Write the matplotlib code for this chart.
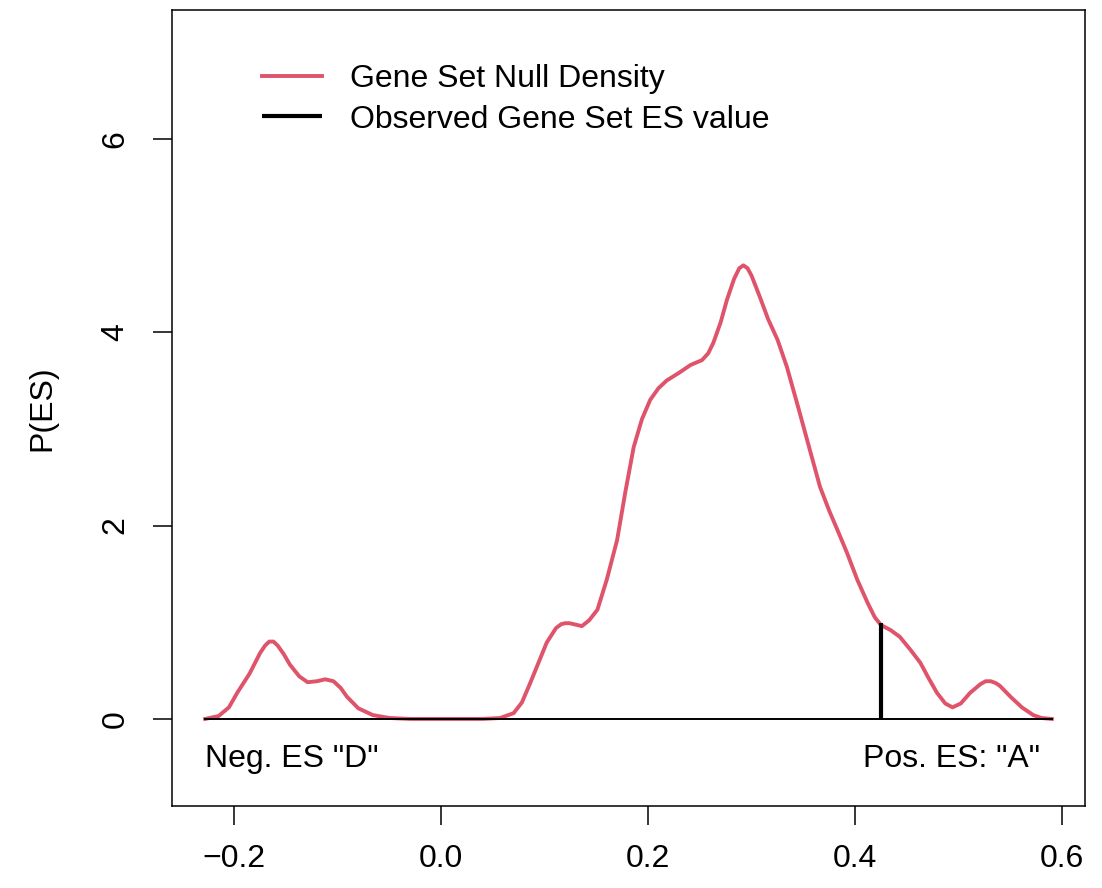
"""Gene set null density vs observed ES"""

import matplotlib
matplotlib.use('Agg')
import matplotlib.pyplot as plt

plt.rcParams['font.family'] = ['Liberation Sans', 'DejaVu Sans']

# null density
es_grid = [-0.228, -0.215, -0.205, -0.197, -0.185, -0.175, -0.170, -0.166,
           -0.162, -0.158, -0.152, -0.146, -0.137, -0.129, -0.120, -0.112,
           -0.104, -0.097, -0.091, -0.080, -0.066, -0.050, -0.030, 0.040,
           0.057, 0.070, 0.078, 0.086, 0.094, 0.102, 0.111, 0.116,
           0.120, 0.124, 0.128, 0.136, 0.143, 0.151, 0.160, 0.170,
           0.178, 0.186, 0.194, 0.202, 0.210, 0.218, 0.230, 0.241,
           0.252, 0.258, 0.263, 0.270, 0.276, 0.283, 0.288, 0.292,
           0.296, 0.300, 0.308, 0.316, 0.325, 0.334, 0.345, 0.357,
           0.366, 0.375, 0.383, 0.392, 0.402, 0.412, 0.419, 0.425,
           0.434, 0.443, 0.453, 0.463, 0.471, 0.479, 0.487, 0.494,
           0.502, 0.511, 0.521, 0.526, 0.531, 0.536, 0.540, 0.550,
           0.561, 0.572, 0.580, 0.590]
density = [0.00, 0.03, 0.12, 0.27, 0.47, 0.68, 0.76, 0.80,
           0.80, 0.76, 0.67, 0.56, 0.44, 0.38, 0.39, 0.41,
           0.39, 0.32, 0.23, 0.11, 0.04, 0.01, 0.00, 0.00,
           0.01, 0.06, 0.17, 0.37, 0.58, 0.79, 0.94, 0.98,
           0.99, 0.99, 0.98, 0.96, 1.02, 1.13, 1.44, 1.85,
           2.35, 2.81, 3.10, 3.30, 3.42, 3.50, 3.58, 3.66,
           3.71, 3.78, 3.89, 4.10, 4.33, 4.55, 4.66, 4.69,
           4.66, 4.58, 4.36, 4.13, 3.92, 3.64, 3.22, 2.75,
           2.40, 2.15, 1.95, 1.72, 1.44, 1.20, 1.05, 0.97,
           0.92, 0.85, 0.72, 0.58, 0.42, 0.27, 0.16, 0.12,
           0.16, 0.27, 0.36, 0.39, 0.39, 0.37, 0.34, 0.23,
           0.12, 0.04, 0.01, 0.00]

obs_es = 0.425
obs_height = 0.99

xticks = [-0.2, 0.0, 0.2, 0.4, 0.6]
xticklabels = ['\u22120.2', '0.0', '0.2', '0.4', '0.6']
yticks = [0, 2, 4, 6]

fig = plt.figure(figsize=(11.02, 8.88), dpi=100)
ax = fig.add_axes([172/1102, 82/888, 913/1102, 796/888])

ax.plot(es_grid, density, color='#DF536B', lw=2.8, label='Gene Set Null Density',
        solid_joinstyle='round')
ax.plot([es_grid[0], es_grid[-1]], [0, 0], color='black', lw=1.4)
ax.plot([obs_es, obs_es], [0, obs_height], color='black', lw=3.0,
        label='Observed Gene Set ES value', solid_capstyle='butt')

ax.text(es_grid[0], -0.496, 'Neg. ES "D"', fontsize=23, ha='left', va='baseline')
ax.text(0.579, -0.496, 'Pos. ES: "A"', fontsize=23, ha='right', va='baseline')

ax.set_xlim(-0.26, 0.622)
ax.set_ylim(-0.90, 7.33)
ax.set_xticks(xticks)
ax.set_xticklabels(xticklabels)
ax.set_yticks(yticks)
ax.tick_params(direction='out', length=13.7, width=1.1, labelsize=23)
ax.tick_params(axis='x', pad=14)
ax.tick_params(axis='y', pad=16)
for lab in ax.get_yticklabels():
    lab.set_rotation(90)
    lab.set_va('center')
for sp in ax.spines.values():
    sp.set_linewidth(1.1)

ax.set_ylabel('P(ES)', fontsize=23)
ax.yaxis.set_label_coords(-0.125, 0.5)

ax.legend(loc='upper left', bbox_to_anchor=(0.0986, 0.932), frameon=False,
          fontsize=23, handlelength=1.88, handletextpad=0.88,
          labelspacing=0.33, borderpad=0, borderaxespad=0)

fig.savefig('out.png', dpi=100)
